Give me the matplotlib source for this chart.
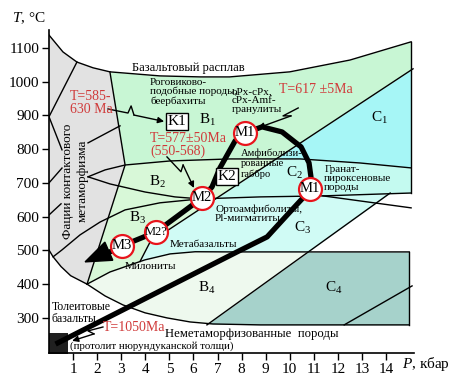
import numpy as np
import matplotlib
matplotlib.use("Agg")
import matplotlib.pyplot as plt
from matplotlib.patches import Polygon

plt.rcParams['font.family'] = ['Liberation Serif', 'DejaVu Serif']
plt.rcParams['mathtext.fontset'] = 'custom'
plt.rcParams['mathtext.rm'] = 'Liberation Serif'
plt.rcParams['mathtext.it'] = 'Liberation Serif:italic'

# boundaries of the fields: P (kbar), T (C)
top_P = [0, 0.58, 1.16, 1.83, 2.53, 4.6, 6.3, 7.5, 10.0, 12.5, 15.04]
top_T = [1138, 1088, 1058, 1041, 1029, 1017, 1014, 1014, 1029, 1064, 1118]
gray_P = [2.53, 3.16, 1.58]
gray_T = [1029, 753, 400]
h1_P = [1.62, 2.33, 3.16, 5.03, 7.52, 10.43, 12.92, 15.04]
h1_T = [718, 738.5, 753, 765, 771, 771, 759, 744.4]
lens_P = [1.62, 2.53, 3.99, 5.23, 6.27]
lens_T = [718, 697, 673, 658.5, 652.6]
h2_P = [6.27, 8.77, 11.38, 15.04]
h2_T = [652.6, 658.5, 661.5, 670]
h3_P = [11.38, 15.04]
h3_T = [661.5, 626]
b3_P = [0.17, 0.54, 1.29, 2.12, 3.16, 4.61, 6.27]
b3_T = [481, 501.5, 546, 584, 620, 641, 652.6]
d1_P = [3.78, 4.2, 15.12]
d1_T = [467, 525, 1038]
d2_P = [6.56, 14.17]
d2_T = [279.3, 670]
milo_P = [1.58, 2.53, 3.78, 3.99, 5.03, 6.07, 7.52, 14.96]
milo_T = [400, 436, 467, 472, 489.6, 496, 495.5, 495.5]
arc_P = [0, 0.17, 0.5, 0.9, 1.58, 2.33, 3.07, 3.99, 4.9, 5.86, 6.81, 8.77, 14.96]
arc_T = [501, 481, 452, 425, 400, 365, 338.5, 315, 300, 288, 282, 279.3, 279.3]
d3_P = [12.26, 15.08]
d3_T = [279.3, 394.8]
gray_lines = [([1.16, 0, 0.54], [1058, 896, 798]),
              ([1.62, 2.95], [818.5, 869]),
              ([0, 0.54], [700, 744]),
              ([0, 0.5], [605, 638])]
P_right = 15.04
P_c4 = 14.96

# P-T path
path_P = [0.37, 7.81, 9.06, 10.01, 10.55, 10.84, 10.88, 10.80, 10.47, 9.68, 8.85,
          8.14, 7.73, 7.10, 6.77, 6.36, 4.45, 3.03, 2.45]
path_T = [226, 495.5, 540, 614, 655.6, 682, 717.8, 759.3, 806.7, 851, 866,
          848, 824.4, 744.4, 688, 655.6, 554.8, 513.3, 492.6]
arrow_P = [1.50, 2.32, 2.65]
arrow_T = [466, 524.5, 470.8]

# stages
stage_names = ['M1', 'M1', 'M2', 'M2?', 'M3']
stage_P = [8.14, 10.84, 6.36, 4.45, 3.03]
stage_T = [848, 682, 655.6, 554.8, 513.3]

RED = '#d03a3a'
fig = plt.figure(figsize=(4.58, 3.84), dpi=100)
ax = fig.add_axes([49 / 458, 31 / 384, 365 / 458, 323 / 384])

P = np.linspace(0, P_right, 4000)
nan = np.nan
tc = np.interp(P, top_P, top_T)
h1 = np.interp(P, h1_P, h1_T)
mid = np.interp(P, lens_P + h2_P[1:], lens_T + h2_T[1:])
d1 = np.interp(P, d1_P, d1_T, left=nan, right=nan)
d2 = np.interp(P, d2_P, d2_T, left=nan, right=1e4)
milo = np.interp(P, milo_P, milo_T, left=nan, right=495.5)
arc = np.interp(P, arc_P, arc_T)


def band(lo, hi, color, mask=True):
    ok = np.isfinite(lo) & np.isfinite(hi) & (hi > lo) & mask
    ax.fill_between(P, lo, hi, where=ok, color=color, lw=0, interpolate=True, zorder=1)


band(np.fmax(h1, d1), tc, '#c8f6d4')                   # B1
band(h1, np.minimum(d1, tc), '#a6f6f6')                # C1
band(np.fmax(milo, d1), h1, '#d8f8d8')                 # B2, B3
band(mid, np.minimum(h1, d1), '#c4faf0')               # C2
band(np.fmax(milo, d2), np.minimum(d1, mid), '#d0fbf5')  # C3
band(np.fmax(arc, d2), milo, '#eef9ee')                # B4
band(arc, np.minimum(495.5, d2), '#a6d2cb', P <= P_c4)  # C4

gx = top_P[:5] + gray_P[1:] + arc_P[:4][::-1]
gy = top_T[:5] + gray_T[1:] + arc_T[:4][::-1]
ax.add_patch(Polygon(list(zip(gx, gy)), closed=True, fc='#e2e2e2', ec='none', zorder=2))
ax.fill_between([0, 0.8], 150, 255.5, color='#202020', lw=0, zorder=2)

lk = dict(color='black', lw=1.0, zorder=3)
for xs, ys in [(top_P, top_T), (gray_P, gray_T), (h1_P, h1_T), (lens_P, lens_T),
               (h2_P, h2_T), (h3_P, h3_T), (b3_P, b3_T), (d1_P, d1_T), (d2_P, d2_T),
               (milo_P, milo_T), (arc_P, arc_T), (d3_P, d3_T),
               ([P_right, P_right], [top_T[-1], h2_T[-1]]),
               ([P_c4, P_c4], [495.5, 279.3])] + gray_lines:
    ax.plot(xs, ys, **lk)

ax.plot(path_P, path_T, color='black', lw=3.8, solid_joinstyle='round', zorder=4)
ax.add_patch(Polygon(list(zip(arrow_P, arrow_T)), closed=True, fc='black', ec='black', zorder=4))

ax.plot(stage_P, stage_T, 'o', ms=16.5, mfc='white', mec='#e8141c', mew=1.6, zorder=5)
for name, x, y in zip(stage_names, stage_P, stage_T):
    ax.text(x, y, name, ha='center', va='center', fontsize=9 if '?' in name else 10.5, zorder=6)


def zigzag(xs, ys):
    ax.plot(xs[:-1], ys[:-1], color='black', lw=1.0, zorder=5)
    ax.annotate('', xy=(xs[-1], ys[-1]), xytext=(xs[-2], ys[-2]), zorder=5,
                arrowprops=dict(arrowstyle='-|>', color='black', lw=1.0, mutation_scale=9,
                                shrinkA=0, shrinkB=0))


zigzag([2.45, 3.28, 3.41, 3.53, 4.78], [919, 907, 928, 901, 882])
zigzag([4.9, 5.48, 5.57, 6.02], [777, 733, 753, 685])
zigzag([10.35, 9.72, 10.05, 8.68], [922, 898.5, 898.5, 863])
zigzag([2.24, 1.62, 1.87, 0.96], [273, 261.5, 252.6, 232])

txt = dict(fontsize=8, va='center', ha='left', linespacing=1.0, zorder=6)
ax.text(3.45, 1041, 'Базальтовый расплав', fontsize=9, va='center', zorder=6)
ax.text(4.2, 970, 'Роговиково-\nподобные породы,\nбеербахиты', **txt)
ax.text(7.6, 943, 'oPx-cPx,\ncPx-Amf-\nгранулиты', **txt)
for line, t in zip(['Амфиболизи-', 'рованные', 'габбро'], [788, 757, 727]):
    ax.text(7.98, t, line, fontsize=7.6, va='center', zorder=6)
ax.text(11.43, 712, 'Гранат-\nпироксеновые\nпороды', **txt)
ax.text(6.9, 608, 'Ортоамфиболиты,\nPl-мигматиты', **txt)
ax.text(5.03, 516, 'Метабазальты', **txt)
ax.text(3.16, 451, 'Милониты', **txt)
ax.text(0.12, 315, 'Толеитовые\nбазальты', fontsize=8.5, va='center', linespacing=1.0, zorder=6)
ax.text(4.82, 253, 'Неметаморфизованные  породы', fontsize=9.2, va='center', zorder=6)
ax.text(0.87, 216, '(протолит нюрундуканской толщи)', fontsize=7.8, va='center', zorder=6)
ax.text(1.08, 706, 'Фации контактового\nметаморфизма', rotation=90, fontsize=9.5,
        ha='center', va='center', multialignment='center', linespacing=1.3, zorder=6)

red = dict(fontsize=10, color=RED, va='center', ha='left', linespacing=1.0, zorder=6)
ax.text(0.87, 938, 'T=585-\n630 Ma', **red)
ax.text(4.2, 812, 'T=577±50Ma\n(550-568)', **red)
ax.text(9.56, 978, 'T=617 ±5Ma', **red)
ax.text(2.24, 273, 'T=1050Ma', **red)

box = dict(boxstyle='square,pad=0.12', fc='white', ec='black', lw=1.0)
ax.text(5.32, 881, 'K1', fontsize=11, ha='center', va='center', bbox=box, zorder=6)
ax.text(7.4, 718, 'K2', fontsize=11, ha='center', va='center', bbox=box, zorder=6)

fields = [('B$_1$', 6.6, 887), ('B$_2$', 4.49, 703), ('B$_3$', 3.66, 596), ('B$_4$', 6.56, 389),
          ('C$_1$', 13.71, 893), ('C$_2$', 10.2, 730), ('C$_3$', 10.55, 567), ('C$_4$', 11.84, 389)]
for name, x, y in fields:
    ax.text(x, y, name, fontsize=11, ha='center', va='center', zorder=6)

ax.set_xlim(0, 15.16)
ax.set_ylim(196, 1153)
ax.set_xticks(range(1, 15))
ax.set_yticks(range(300, 1101, 100))
ax.spines['top'].set_visible(False)
ax.spines['right'].set_visible(False)
for s in ['left', 'bottom']:
    ax.spines[s].set_linewidth(1.2)
ax.tick_params(direction='out', length=5, width=1, labelsize=11, pad=2)

fig.text(12 / 458, 1 - 18 / 384, '$T$, °C', fontsize=11, va='center')
fig.text(402 / 458, 1 - 364 / 384, '$P$, кбар', fontsize=11, va='center')

fig.savefig('out.png', dpi=100)
